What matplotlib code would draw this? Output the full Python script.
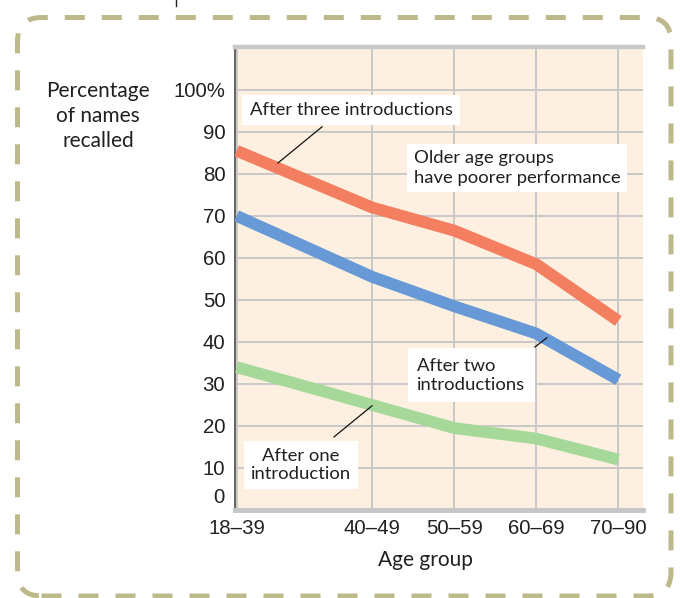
import matplotlib
matplotlib.use("Agg")
import matplotlib.pyplot as plt
from matplotlib.patches import FancyBboxPatch
from matplotlib.lines import Line2D
from matplotlib.transforms import IdentityTransform

# ---- data ----
age_groups = ["18–39", "40–49", "50–59", "60–69", "70–90"]
age_pos = [28.5, 45, 55, 65, 75]
three_intro = [85.5, 72, 66.5, 58.5, 45]
two_intro = [70, 55.5, 48.5, 42, 31]
one_intro = [34, 25, 19.5, 17, 12]
y_ticks = [10, 20, 30, 40, 50, 60, 70, 80, 90, 100]
y_ticklabels = ["10", "20", "30", "40", "50", "60", "70", "80", "90", "100%"]

W, H = 680, 598
fig = plt.figure(figsize=(W / 100, H / 100), dpi=100)

NUM_FONT = ["Liberation Sans", "DejaVu Sans"]
TXT_FONT = ["Lato", "DejaVu Sans"]
NUM_SIZE = 14.7
TXT_SIZE = 13.3
TITLE_SIZE = 15

# axes in pixel geometry
L, R, T, B = 235, 643, 47, 510
ax = fig.add_axes([L / W, (H - B) / H, (R - L) / W, (B - T) / H])
ax.set_facecolor("#FEF0E1")
ax.set_xlim(28.3, 78)
ax.set_ylim(0, 110.2)

ax.set_xticks(age_pos)
ax.set_xticklabels(age_groups, fontfamily=NUM_FONT, fontsize=NUM_SIZE, color="#231F20")
ax.set_yticks(y_ticks)
ax.set_yticklabels(y_ticklabels, fontfamily=NUM_FONT, fontsize=NUM_SIZE, color="#231F20")
ax.tick_params(axis="both", length=0)
ax.tick_params(axis="x", pad=6.5)
ax.tick_params(axis="y", pad=7)
ax.grid(True, color="#C8C8C8", linewidth=1.4, zorder=0)
ax.set_axisbelow(True)

ax.spines["right"].set_visible(False)
ax.spines["left"].set_color("#4A4A4A")
ax.spines["left"].set_linewidth(1.2)
ax.spines["top"].set_color("#C8C9CB")
ax.spines["top"].set_linewidth(3.2)
ax.spines["bottom"].set_color("#C4C6C8")
ax.spines["bottom"].set_linewidth(3.5)

# "0" label sits slightly above the axis line
ax.text(-0.025, 3.0, "0", transform=ax.get_yaxis_transform(), ha="right", va="center",
        fontfamily=NUM_FONT, fontsize=NUM_SIZE, color="#231F20")

lw = 8.5
ax.plot(age_pos, three_intro, color="#F37F60", lw=lw, solid_capstyle="butt", solid_joinstyle="miter", zorder=3)
ax.plot(age_pos, two_intro, color="#6699D5", lw=lw, solid_capstyle="butt", solid_joinstyle="miter", zorder=3)
ax.plot(age_pos, one_intro, color="#A6D89A", lw=lw, solid_capstyle="butt", solid_joinstyle="miter", zorder=3)

tkw = dict(fontfamily=TXT_FONT, fontsize=TXT_SIZE, color="#231F20", zorder=5)

ax.text(42.45, 95.2, "After three introductions", ha="center", va="center",
        bbox=dict(boxstyle="square,pad=0.4", facecolor="white", edgecolor="none"), **tkw)
ax.plot([33.54, 38.9], [82.6, 91.2], color="#111111", lw=0.9, zorder=4)

ax.text(50.1, 81.4, "Older age groups\nhave poorer performance", ha="left", va="center",
        linespacing=1.25, bbox=dict(boxstyle="square,pad=0.35", facecolor="white", edgecolor="none"), **tkw)

ax.text(50.5, 32.1, "After two\nintroductions", ha="left", va="center",
        linespacing=1.25, bbox=dict(boxstyle="square,pad=0.5", facecolor="white", edgecolor="none"), **tkw)
ax.plot([64.84, 66.3], [38.8, 41.0], color="#111111", lw=0.9, zorder=4)

ax.text(36.34, 10.7, "After one\nintroduction", ha="center", va="center", multialignment="center",
        linespacing=1.15, bbox=dict(boxstyle="square,pad=0.4", facecolor="white", edgecolor="none"), **tkw)
ax.plot([40.36, 44.99], [17.4, 24.8], color="#111111", lw=0.9, zorder=4)

# y-axis title and x-axis title
fig.text(98 / W, 1 - 116 / H, "Percentage\nof names\nrecalled", ha="center", va="center",
         multialignment="center", linespacing=1.3, fontfamily=TXT_FONT, fontsize=TITLE_SIZE, color="#231F20")
fig.text(425 / W, 1 - 560 / H, "Age group", ha="center", va="center",
         fontfamily=TXT_FONT, fontsize=TITLE_SIZE, color="#231F20")

# dashed rounded frame (pixel coordinates, origin bottom-left)
frame = FancyBboxPatch((17.5, H - 596), 671 - 17.5, 596 - 17.5,
                       boxstyle="round,pad=0,rounding_size=24",
                       transform=IdentityTransform(), facecolor="none",
                       edgecolor="#BEB98A", linewidth=3.6, linestyle=(0, (4, 3.4)),
                       clip_on=False)
fig.patches.append(frame)

# small tick at the top
fig.lines.append(Line2D([176, 176], [H, H - 6], transform=IdentityTransform(),
                        color="#222222", linewidth=1.0))

fig.savefig("out.png", dpi=100)
